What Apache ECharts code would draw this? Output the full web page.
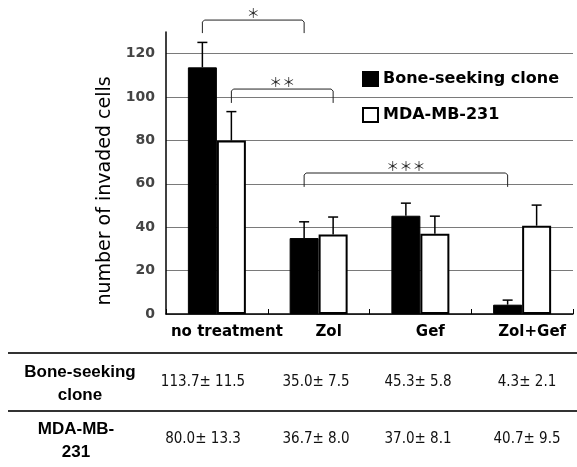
<!DOCTYPE html>
<html>
<head>
<meta charset="utf-8">
<script src="https://cdn.jsdelivr.net/npm/echarts@6/dist/echarts.min.js"></script>
<style>
  html, body { margin: 0; padding: 0; background: #fff; }
  #main { width: 577px; height: 467px; }
</style>
</head>
<body>
<div id="main"></div>
<script>
// data
var categories = ['no treatment', 'Zol', 'Gef', 'Zol+Gef'];
var boneMean = [113.7, 35.0, 45.3, 4.3];
var boneSd = [11.5, 7.5, 5.8, 2.1];
var mdaMean = [80.0, 36.7, 37.0, 40.7];
var mdaSd = [13.3, 8.0, 8.1, 9.5];
var seriesNames = ['Bone-seeking clone', 'MDA-MB-231'];
var rowLabels = ['Bone-seeking\nclone', 'MDA-MB-\n231'];
var yTicks = [0, 20, 40, 60, 80, 100, 120];
// brackets: [fromCat, fromSeries, toCat, toSeries, topValue, legValue, mark]
var brackets = [
    [0, 0, 1, 0, 135.5, 129.5, '＊'],
    [0, 1, 1, 1, 103.7, 97.3, '＊＊'],
    [1, 0, 3, 0, 65.0, 58.6, '＊＊＊']
];

var BAR_W = 29;
var chart = echarts.init(document.getElementById('main'));

function errorItem(side) {
    return function (params, api) {
        var c = api.coord([api.value(0), api.value(1)]);
        var t = api.coord([api.value(0), api.value(1) + api.value(2)]);
        var x = c[0] + side * BAR_W / 2;
        return {
            type: 'group',
            children: [
                {type: 'line', shape: {x1: x, y1: c[1], x2: x, y2: t[1]}, style: {stroke: '#000', lineWidth: 1.5}},
                {type: 'line', shape: {x1: x - 5, y1: t[1], x2: x + 5, y2: t[1]}, style: {stroke: '#000', lineWidth: 1.5}}
            ]
        };
    };
}

function bracketItem(params, api) {
    var b = brackets[params.dataIndex];
    var a0 = api.coord([b[0], b[4]]);
    var a1 = api.coord([b[2], b[4]]);
    var leg = api.coord([b[0], b[5]]);
    var x0 = a0[0] + (b[1] === 0 ? -1 : 1) * BAR_W / 2;
    var x1 = a1[0] + (b[3] === 0 ? -1 : 1) * BAR_W / 2;
    return {
        type: 'group',
        children: [
            {type: 'polyline', shape: {points: [[x0, leg[1]], [x0, a0[1] + 2], [x0 + 2, a0[1]], [x1 - 2, a0[1]], [x1, a0[1] + 2], [x1, leg[1]]]},
             style: {stroke: '#222', lineWidth: 1, fill: null}},
            {type: 'text', x: (x0 + x1) / 2, y: a0[1] - 7,
             style: {text: b[6], fill: '#222', font: '13px "Noto Sans CJK JP"', align: 'center', verticalAlign: 'middle'}}
        ]
    };
}

function cellText(m, s) {
    return m.toFixed(1) + '± ' + s.toFixed(1);
}

var colX = [203, 316, 418, 527];
var tableGraphics = [
    {type: 'line', shape: {x1: 8, y1: 353, x2: 577, y2: 353}, style: {stroke: '#333', lineWidth: 2}},
    {type: 'line', shape: {x1: 8, y1: 411, x2: 577, y2: 411}, style: {stroke: '#333', lineWidth: 2}},
    {type: 'text', x: 80, y: 384, style: {text: rowLabels[0], font: 'bold 17px "Liberation Sans"', fill: '#000', align: 'center', verticalAlign: 'middle', lineHeight: 23}},
    {type: 'text', x: 76, y: 441, style: {text: rowLabels[1], font: 'bold 17px "Liberation Sans"', fill: '#000', align: 'center', verticalAlign: 'middle', lineHeight: 23}},
    {type: 'text', x: 105, y: 191, rotation: Math.PI / 2,
     style: {text: 'number of invaded cells', font: '19px "DejaVu Sans"', fill: '#000', align: 'center', verticalAlign: 'middle'}}
];
categories.forEach(function (c, i) {
    tableGraphics.push({type: 'text', x: colX[i], y: 382,
        style: {text: cellText(boneMean[i], boneSd[i]), font: '15px "Liberation Sans Narrow", "DejaVu Sans Condensed"', fill: '#111', align: 'center', verticalAlign: 'middle'}});
    tableGraphics.push({type: 'text', x: colX[i], y: 439,
        style: {text: cellText(mdaMean[i], mdaSd[i]), font: '15px "Liberation Sans Narrow", "DejaVu Sans Condensed"', fill: '#111', align: 'center', verticalAlign: 'middle'}});
});

var option = {
    animation: false,
    grid: {left: 166, right: 4, top: 32, bottom: 153},
    legend: {
        data: seriesNames,
        orient: 'vertical',
        left: 357, top: 66,
        icon: 'rect',
        itemWidth: 15, itemHeight: 14, itemGap: 20,
        textStyle: {fontFamily: 'DejaVu Sans', fontWeight: 'bold', fontSize: 16, color: '#000'}
    },
    xAxis: {
        type: 'category',
        data: categories,
        axisLine: {lineStyle: {color: '#000', width: 1.5}},
        axisTick: {show: true, inside: true, length: 5, lineStyle: {color: '#000'}},
        axisLabel: {interval: 0, fontFamily: 'DejaVu Sans', fontWeight: 'bold', fontSize: 15, color: '#000', margin: 11, padding: [0, 0, 0, 20]}
    },
    yAxis: {
        type: 'value',
        min: 0, max: 130, interval: 20,
        axisLine: {show: true, lineStyle: {color: '#000', width: 1.5}},
        axisTick: {show: false},
        axisLabel: {fontFamily: 'DejaVu Sans', fontWeight: 'bold', fontSize: 14, color: '#444', margin: 11, showMaxLabel: false,
            formatter: function (v) { return yTicks.indexOf(v) >= 0 ? v : ''; }},
        splitLine: {lineStyle: {color: '#7a7a7a', width: 1.2}, showMaxLine: false}
    },
    series: [
        {name: seriesNames[0], type: 'bar', data: boneMean, barWidth: BAR_W, barGap: '0%',
         itemStyle: {color: '#000', borderColor: '#000', borderWidth: 1}},
        {name: seriesNames[1], type: 'bar', data: mdaMean, barWidth: BAR_W, barGap: '0%',
         itemStyle: {color: '#fff', borderColor: '#000', borderWidth: 2}},
        {type: 'custom', renderItem: errorItem(-1), z: 5,
         data: boneMean.map(function (m, i) { return [i, m, boneSd[i]]; })},
        {type: 'custom', renderItem: errorItem(1), z: 5,
         data: mdaMean.map(function (m, i) { return [i, m, mdaSd[i]]; })},
        {type: 'custom', renderItem: bracketItem, z: 6, clip: false,
         data: brackets.map(function (b) { return [b[0], b[4]]; })}
    ],
    graphic: tableGraphics
};
chart.setOption(option);
</script>
</body>
</html>
